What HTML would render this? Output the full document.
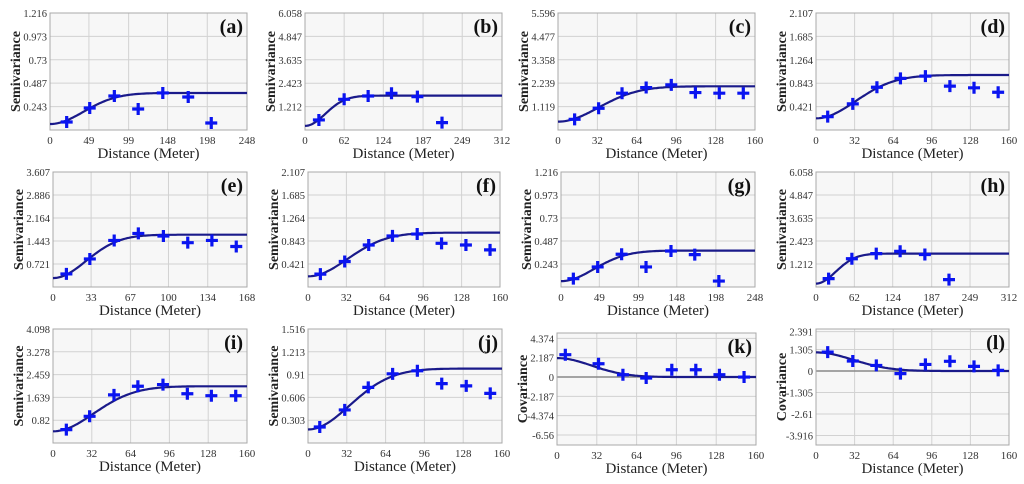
<!DOCTYPE html>
<html><head><meta charset="utf-8">
<style>
html,body{margin:0;padding:0;background:#fff;}
svg{display:block;font-family:"Liberation Serif",serif;}
</style></head>
<body>
<svg id="c" width="1024" height="484" viewBox="0 0 1024 484" xmlns="http://www.w3.org/2000/svg"></svg>
<script>
// ---- data ----
const panelLabels = ["(a)","(b)","(c)","(d)","(e)","(f)","(g)","(h)","(i)","(j)","(k)","(l)"];
const panelKinds = ["semi","semi","semi","semi","semi","semi","semi","semi","semi","semi","cov","cov"];
const xTicksA = [0,49,99,148,198,248];
const xTicksB = [0,62,124,187,249,312];
const xTicks160 = [0,32,64,96,128,160];
const xTicksE = [0,33,67,100,134,168];
const yTicksA = [0.243,0.487,0.73,0.973,1.216];
const yTicksB = [1.212,2.423,3.635,4.847,6.058];
const yTicksC = [1.119,2.239,3.358,4.477,5.596];
const yTicksD = [0.421,0.843,1.264,1.685,2.107];
const yTicksE = [0.721,1.443,2.164,2.886,3.607];
const yTicksI = [0.82,1.639,2.459,3.278,4.098];
const yTicksJ = [0.303,0.606,0.91,1.213,1.516];
const yTicksK = [4.374,2.187,0,-2.187,-4.374,-6.56];
const yTicksL = [2.391,1.305,0,-1.305,-2.61,-3.916];

const distA = [21,50,81,111,142,174,203];
const valA  = [0.083,0.229,0.353,0.218,0.385,0.343,0.073];
const distB = [22,62,100,137,178,217];
const valB  = [0.52,1.59,1.76,1.90,1.73,0.38];
const distC = [13.5,33,52,71.6,92,111.6,131,150.5];
const valC  = [0.51,1.04,1.76,2.03,2.16,1.79,1.76,1.76];
const distD = [9.7,30.5,50.5,70,90.7,111,131,151];
const valD  = [0.24,0.47,0.77,0.93,0.97,0.79,0.76,0.68];
const distE = [11.6,31.9,53,73.9,95.6,116.7,137.6,158.7];
const valE  = [0.41,0.88,1.46,1.68,1.60,1.39,1.46,1.27];
const distF = [10.3,30.6,50.6,70.4,91,111.3,131.6,151.7];
const valF  = [0.236,0.467,0.77,0.936,0.97,0.80,0.77,0.68];
const distG = [15.8,46.9,77.5,108.7,140.6,171,201.8];
const valG  = [0.088,0.212,0.346,0.212,0.381,0.342,0.063];
const distH = [20.4,58,97.4,136,176,215];
const valH  = [0.44,1.49,1.76,1.88,1.71,0.39];
const distI = [11,30.2,50.3,70,90.7,110.8,130.6,150.7];
const valI  = [0.48,0.96,1.73,2.04,2.10,1.77,1.70,1.70];
const distJ = [9.7,30.3,49.7,69.8,90.2,110.3,130.5,150.3];
const valJ  = [0.213,0.44,0.74,0.92,0.96,0.79,0.76,0.66];
const distK = [6.7,33.4,53,71.7,92.3,111.6,130.6,150.4];
const valK  = [2.53,1.51,0.26,-0.11,0.83,0.83,0.26,0];
const distL = [9.7,30.5,50,70,90.7,111,131,151];
const valL  = [1.15,0.61,0.34,-0.16,0.40,0.59,0.28,0.04];

// Gaussian model parameters per panel
const modelNugget = [0.062,0.21,0.40,0.21,0.28,0.195,0.062,0.18,0.42,0.18,0,0];
const modelSill   = [0.385,1.78,2.09,0.99,1.64,0.996,0.385,1.76,2.04,0.99,2.15,1.13];
const modelRange  = [103,78,80,80,70,80,103,78,82,84,68,75];

// ---- layout ----
const rects = [[50,13,247,130],[305,13,502,130],[558,13,755,130],[816,13,1009,130],
 [53,172,247,287],[308,172,500,287],[561,172,755,287],[816,172,1009,287],
 [53,329,247,443],[308,329,502,443],[557,333,756,445],[816,329,1009,445]];
const xTicksAll=[xTicksA,xTicksB,xTicks160,xTicks160,xTicksE,xTicks160,xTicksA,xTicksB,xTicks160,xTicks160,xTicks160,xTicks160];
const yTicksAll=[yTicksA,yTicksB,yTicksC,yTicksD,yTicksE,yTicksD,yTicksA,yTicksB,yTicksI,yTicksJ,yTicksK,yTicksL];
const distAll=[distA,distB,distC,distD,distE,distF,distG,distH,distI,distJ,distK,distL];
const valAll=[valA,valB,valC,valD,valE,valF,valG,valH,valI,valJ,valK,valL];
const yDomains=[null,null,null,null,null,null,null,null,null,null,[-7.7,4.99],[-4.49,2.55]];

const NS="http://www.w3.org/2000/svg";
const svg=document.getElementById('c');
function mk(tag,attrs,parent){const e=document.createElementNS(NS,tag);for(const k in attrs)e.setAttribute(k,attrs[k]);(parent||svg).appendChild(e);return e;}

for(let p=0;p<12;p++){
  const [x0,y0,x1,y1]=rects[p];
  const xt=xTicksAll[p], yt=yTicksAll[p];
  const xMax=xt[xt.length-1];
  const dom=yDomains[p]||[0,yt[yt.length-1]];
  const sx=v=>x0+(v/xMax)*(x1-x0);
  const sy=v=>y1-(v-dom[0])/(dom[1]-dom[0])*(y1-y0);
  const g=mk('g',{});
  
  
  const bg=mk('rect',{x:x0,y:y0,width:x1-x0,height:y1-y0,fill:'#f7f7f7',stroke:'none'},g);
  
  
  xt.forEach((t,i)=>{
    if(i>0&&i<xt.length-1){const l=mk('line',{x1:sx(t),x2:sx(t),y1:y0,y2:y1,stroke:'#d2d2d2','stroke-width':1},g);
      }
    const tx=mk('text',{x:sx(t),y:y1+14,'font-size':11,'text-anchor':'middle',fill:'#333'},g);
    tx.textContent=t;
    
  });
  yt.forEach(t=>{
    const yy=sy(t);
    const isZero=(panelKinds[p]==='cov'&&t===0);
    const l=mk('line',{x1:x0,x2:x1,y1:yy,y2:yy,stroke:isZero?'#888':'#d2d2d2','stroke-width':isZero?1.5:1},g);
    
    const tx=mk('text',{x:x0-3,y:yy+4,'font-size':10.5,'text-anchor':'end',fill:'#333'},g);
    tx.textContent=t;
    
  });
  const br=mk('rect',{x:x0,y:y0,width:x1-x0,height:y1-y0,fill:'none',stroke:'#a8a8a8','stroke-width':1},g);
  
  let d='';
  for(let i=0;i<=120;i++){
    const h=xMax*i/120;
    const f=Math.exp(-3*h*h/(modelRange[p]*modelRange[p]));
    const v=panelKinds[p]==='cov'? modelSill[p]*f : modelNugget[p]+(modelSill[p]-modelNugget[p])*(1-f);
    d+=(i?'L':'M')+sx(h).toFixed(1)+','+sy(v).toFixed(1);
  }
  const cv=mk('path',{d:d,fill:'none',stroke:'#1a1a8a','stroke-width':2.2},g);
  
  distAll[p].forEach((h,i)=>{
    const px=sx(h), py=sy(valAll[p][i]);
    const m=mk('path',{d:`M${px-6},${py}H${px+6}M${px},${py-6}V${py+6}`,stroke:'#0a14f0','stroke-width':3.2,fill:'none'},g);
    
  });
  const pl=mk('text',{x:x1-4,y:y0+20,'font-size':20,'font-weight':'bold','text-anchor':'end',fill:'#111'},g);
  pl.textContent=panelLabels[p];
  
  const xl=mk('text',{x:(x0+x1)/2,y:y1+28,'font-size':15,'text-anchor':'middle',fill:'#222'},g);
  xl.textContent='Distance (Meter)';
  
  const yc=(y0+y1)/2, xc=x0-30;
  const yl=mk('text',{x:xc,y:yc,'font-size':14,'font-weight':'bold','text-anchor':'middle',fill:'#222',transform:`rotate(-90 ${xc} ${yc})`},g);
  yl.textContent=panelKinds[p]==='cov'?'Covariance':'Semivariance';
  
}
</script>
</body></html>
